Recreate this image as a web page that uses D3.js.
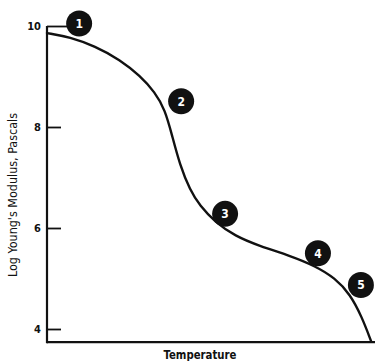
<!DOCTYPE html>
<html>
<head>
<meta charset="utf-8">
<script src="https://cdn.jsdelivr.net/npm/d3@7"></script>
<style>
  html, body { margin: 0; padding: 0; background: #fff; }
  svg { display: block; }
  text { font-family: "Liberation Sans Narrow", "DejaVu Sans Condensed", "Liberation Sans", sans-serif; fill: #111; }
</style>
</head>
<body>
<svg id="chart" width="375" height="361"></svg>
<script>
// Modulus–temperature curve of an amorphous polymer (arbitrary temperature units)
const temperature = [0, 7.0, 14.6, 22.3, 28.4, 32.9, 36.0, 38.1, 40.5, 43.6, 46.6, 51.2, 57.3, 64.9, 74.1, 81.7, 87.8, 92.4, 96.0, 98.8];
const logModulus  = [9.86, 9.78, 9.60, 9.33, 9.01, 8.69, 8.34, 7.84, 7.25, 6.75, 6.44, 6.12, 5.84, 5.64, 5.45, 5.25, 5.01, 4.69, 4.24, 3.76];

// Numbered region markers
const markerLabels = ["1", "2", "3", "4", "5"];
const markerTemp   = [9.8, 40.9, 54.3, 82.6, 95.7];
const markerLogE   = [10.05, 8.51, 6.28, 5.50, 4.87];

const yTicks = [4, 6, 8, 10];
const xTitle = "Temperature";
const yTitle = "Log Young's Modulus, Pascals";

const svg = d3.select("#chart");
const ink = "#111";

const x = d3.scaleLinear().domain([0, 100]).range([47, 375]);
const y = d3.scaleLinear().domain([4, 10]).range([329, 26]);
const yBase = y(3.74);

// Axes frame
svg.append("line")
  .attr("x1", x(0)).attr("x2", x(100))
  .attr("y1", yBase).attr("y2", yBase)
  .attr("stroke", ink).attr("stroke-width", 2.2);

const yAxis = d3.axisLeft(y)
  .tickValues(yTicks)
  .tickSizeInner(-14)
  .tickSizeOuter(0)
  .tickPadding(6)
  .tickFormat(d3.format("d"));

const gy = svg.append("g")
  .attr("transform", `translate(${x(0)},0)`)
  .call(yAxis);
gy.select(".domain").remove();
gy.selectAll(".tick line").attr("stroke", ink).attr("stroke-width", 1.8);
gy.selectAll(".tick text")
  .attr("font-size", 11)
  .attr("font-weight", "bold")
  .style("font-family", "'Liberation Sans Narrow', 'DejaVu Sans Condensed', sans-serif")
  .attr("fill", ink);
// top tick runs over to the first marker
gy.selectAll(".tick").filter(d => d === 10).select("line").attr("x2", 20);

svg.append("line")
  .attr("x1", x(0)).attr("x2", x(0))
  .attr("y1", y(10)).attr("y2", yBase + 1)
  .attr("stroke", ink).attr("stroke-width", 2.2);

// Curve
const line = d3.line()
  .x((d, i) => x(temperature[i]))
  .y(d => y(d))
  .curve(d3.curveBasis);

svg.append("path")
  .datum(logModulus)
  .attr("d", line)
  .attr("fill", "none")
  .attr("stroke", ink)
  .attr("stroke-width", 2.4)
  .attr("stroke-linecap", "round");

// Markers
const m = svg.append("g").selectAll("g")
  .data(markerLabels)
  .join("g")
  .attr("transform", (d, i) => `translate(${x(markerTemp[i])},${y(markerLogE[i])})`);
m.append("circle").attr("r", 13).attr("fill", ink);
m.append("text")
  .attr("text-anchor", "middle")
  .attr("dy", "0.36em")
  .attr("font-size", 12)
  .attr("font-weight", "bold")
  .style("fill", "#fff")
  .text(d => d);

// Axis titles
svg.append("text")
  .attr("x", 200).attr("y", 359)
  .attr("text-anchor", "middle")
  .attr("font-size", 11.5)
  .attr("font-weight", "bold")
  .attr("textLength", 73)
  .attr("lengthAdjust", "spacingAndGlyphs")
  .text(xTitle);

svg.append("text")
  .attr("transform", "translate(17,195) rotate(-90)")
  .attr("text-anchor", "middle")
  .attr("font-size", 11.5)
  .attr("textLength", 164)
  .attr("lengthAdjust", "spacingAndGlyphs")
  .text(yTitle);
</script>
</body>
</html>
